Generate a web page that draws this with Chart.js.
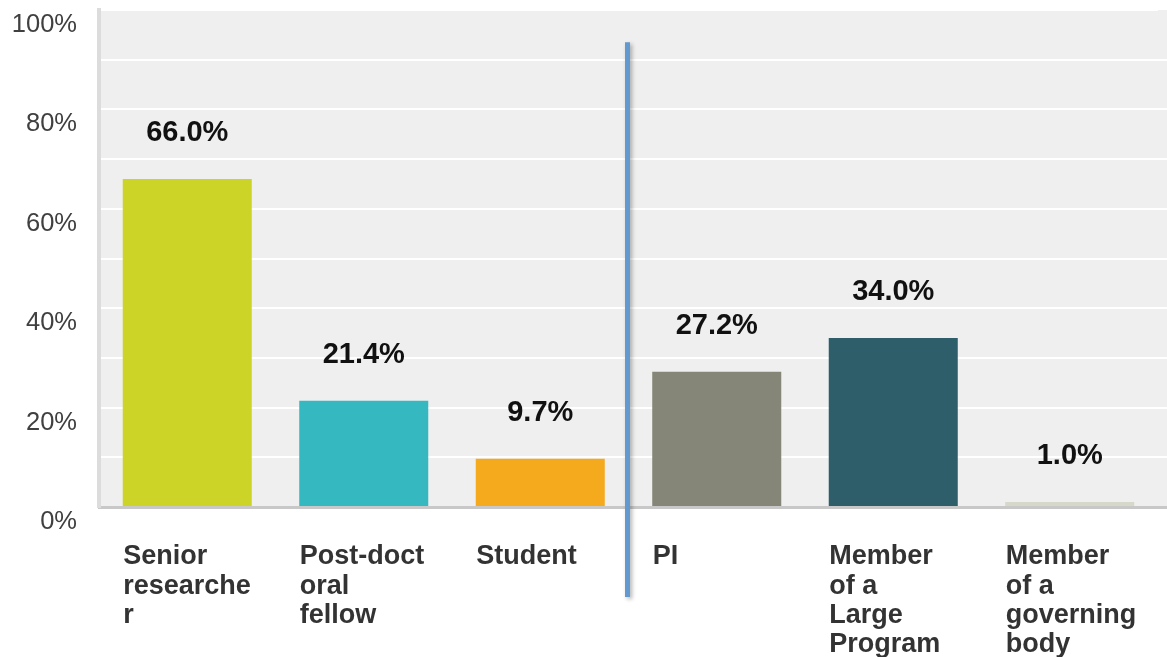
<!DOCTYPE html>
<html>
<head>
<meta charset="utf-8">
<script src="https://cdn.jsdelivr.net/npm/chart.js@4/dist/chart.umd.min.js"></script>
<style>
  html, body { margin: 0; padding: 0; background: #fff; }
  #wrap { width: 1167px; height: 657px; }
</style>
</head>
<body>
<div id="wrap"><canvas id="roles"></canvas></div>
<script>
// --- DATA ---
const categories = [
    ['Senior', 'researche', 'r'],
    ['Post-doct', 'oral', 'fellow'],
    ['Student'],
    ['PI'],
    ['Member', 'of a', 'Large', 'Program'],
    ['Member', 'of a', 'governing', 'body']
];
const shares = [66.0, 21.4, 9.7, 27.2, 34.0, 1.0];
const barColors = ['#cdd428', '#36b8c0', '#f5aa1e', '#858677', '#2d5e6a', '#d6d8ca'];
const yTicks = [0, 20, 40, 60, 80, 100];

const FONT = "'Liberation Sans', Arial, Helvetica, sans-serif";

// grey plot background, carried on to the right edge of the canvas
const plotBackground = {
    id: 'plotBackground',
    beforeDraw(chart) {
        const { ctx, chartArea: a } = chart;
        ctx.save();
        ctx.fillStyle = '#efefef';
        ctx.fillRect(a.left, a.top, chart.width - a.left, a.bottom - a.top);
        ctx.restore();
    },
    afterDraw(chart) {
        const { ctx, chartArea: a } = chart;
        const y = chart.scales.y;
        ctx.save();
        ctx.strokeStyle = '#ffffff';
        ctx.lineWidth = 2;
        y.ticks.forEach(t => {
            if (t.value <= 0 || t.value >= 100) return;
            const py = Math.round(y.getPixelForValue(t.value));
            ctx.beginPath();
            ctx.moveTo(a.right - 1, py);
            ctx.lineTo(chart.width, py);
            ctx.stroke();
        });
        ctx.strokeStyle = '#c8c8c8';
        ctx.lineWidth = 3;
        ctx.beginPath();
        ctx.moveTo(a.right - 1, Math.round(a.bottom - 1.5) + 1.5);
        ctx.lineTo(chart.width, Math.round(a.bottom - 1.5) + 1.5);
        ctx.stroke();
        ctx.restore();
    }
};

// value labels floating above each bar
const valueLabels = {
    id: 'valueLabels',
    afterDatasetsDraw(chart) {
        const { ctx } = chart;
        const meta = chart.getDatasetMeta(0);
        ctx.save();
        ctx.font = 'bold 29px ' + FONT;
        ctx.fillStyle = '#111';
        ctx.textAlign = 'center';
        ctx.textBaseline = 'middle';
        meta.data.forEach((bar, i) => {
            ctx.fillText(shares[i].toFixed(1) + '%', bar.x, bar.y - 46);
        });
        ctx.restore();
    }
};

// blue divider between the two groups
const divider = {
    id: 'divider',
    afterDraw(chart) {
        const { ctx, chartArea: a } = chart;
        const x = chart.scales.x;
        const y = chart.scales.y;
        const px = (x.getPixelForValue(2) + x.getPixelForValue(3)) / 2 - 1;
        ctx.save();
        ctx.shadowColor = 'rgba(0,0,0,0.3)';
        ctx.shadowBlur = 4;
        ctx.shadowOffsetX = 2;
        ctx.shadowOffsetY = 2;
        ctx.strokeStyle = '#6299cf';
        ctx.lineWidth = 5;
        ctx.beginPath();
        ctx.moveTo(px, y.getPixelForValue(93.5));
        ctx.lineTo(px, a.bottom + 90);
        ctx.stroke();
        ctx.restore();
    }
};

new Chart(document.getElementById('roles'), {
    type: 'bar',
    data: {
        labels: categories,
        datasets: [{
            data: shares,
            backgroundColor: barColors,
            borderWidth: 0,
            categoryPercentage: 1,
            barPercentage: 0.731
        }]
    },
    options: {
        responsive: true,
        maintainAspectRatio: false,
        animation: false,
        layout: { padding: { top: 10, right: 9, bottom: 0, left: 0 } },
        plugins: {
            legend: { display: false },
            tooltip: { enabled: false }
        },
        scales: {
            x: {
                afterFit(scale) {
                    scale.height = 150;
                    scale.paddingLeft = 0;
                    scale.paddingRight = 0;
                },
                grid: { display: false },
                border: { display: true, color: '#c8c8c8', width: 3 },
                ticks: {
                    autoSkip: false,
                    maxRotation: 0,
                    minRotation: 0,
                    align: 'start',
                    labelOffset: -64,
                    padding: 27,
                    color: '#333',
                    font: { family: FONT, size: 27, weight: 'bold', lineHeight: 1.09 }
                }
            },
            y: {
                min: 0,
                max: 100,
                afterFit(scale) {
                    scale.width = 99;
                    scale.paddingTop = 0;
                    scale.paddingBottom = 0;
                },
                grid: { color: '#ffffff', lineWidth: 2, drawTicks: false },
                border: { display: true, color: '#dcdcdc', width: 4 },
                ticks: {
                    stepSize: 10,
                    padding: 22,
                    labelOffset: 15,
                    color: '#404040',
                    font: { family: FONT, size: 25.5 },
                    callback: v => yTicks.includes(v) ? v + '%' : ''
                }
            }
        }
    },
    plugins: [plotBackground, valueLabels, divider]
});
</script>
</body>
</html>
